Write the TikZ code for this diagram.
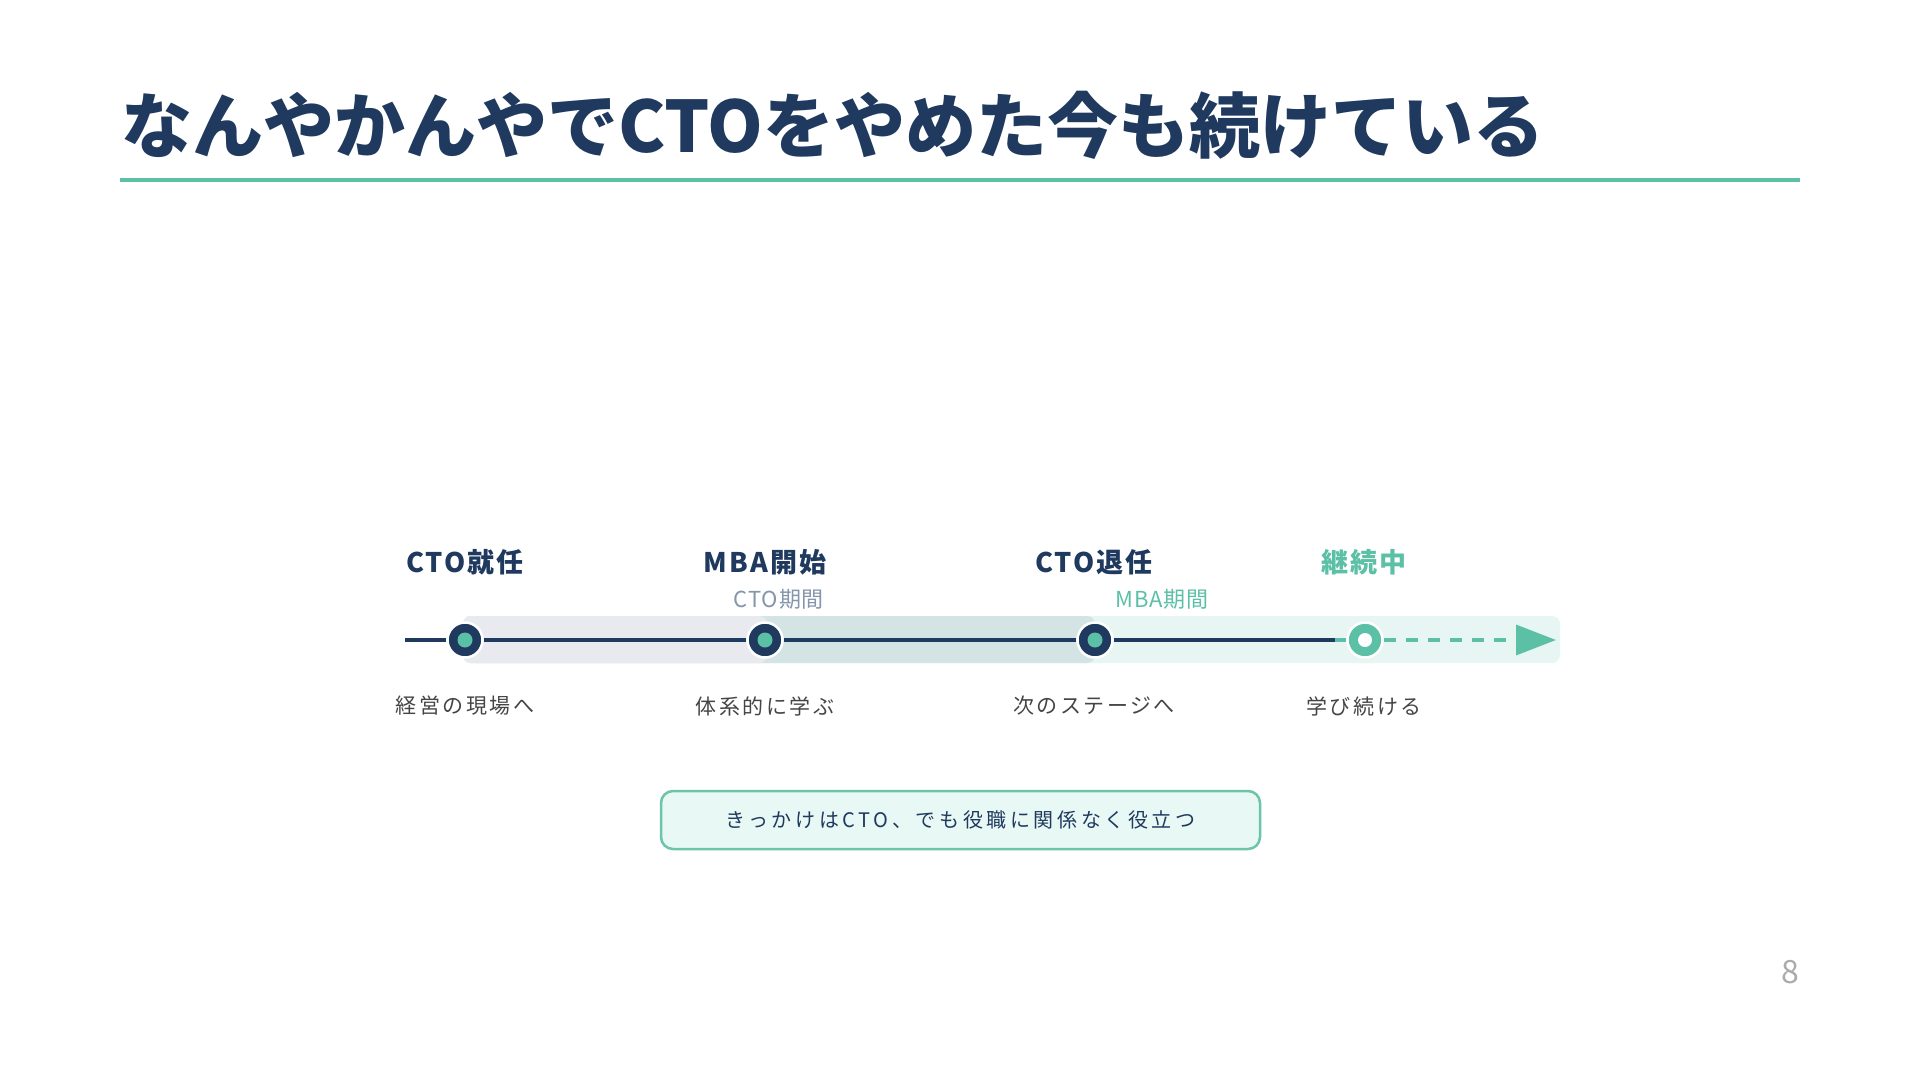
\documentclass[tikz,border=0pt]{standalone}
\usepackage{fontspec}
\setmainfont{Noto Sans CJK JP}
\usetikzlibrary{arrows.meta}
\definecolor{navy}{HTML}{1F3A5E}
\definecolor{tealc}{HTML}{5CC0A6}
\definecolor{bandgrey}{HTML}{E8EAF0}
\definecolor{bandteal}{HTML}{D4E4E4}
\definecolor{bandmint}{HTML}{E7F6F2}
\definecolor{boxfill}{HTML}{E8F8F4}
\definecolor{boxline}{HTML}{6CC5A8}
\definecolor{subgrey}{HTML}{8595AC}
\definecolor{txtgrey}{HTML}{454545}
\definecolor{pagegrey}{HTML}{ABABAB}
\tikzset{
  titletext/.style={anchor=base west, inner sep=0pt, text=navy,
    font=\fontsize{71}{76}\selectfont\bfseries},
  toplabel/.style={inner sep=0pt, text=navy,
    font=\fontsize{27}{30}\selectfont\bfseries\addfontfeature{LetterSpace=8}},
  sublabel/.style={inner sep=0pt, text=subgrey,
    font=\fontsize{22}{24}\selectfont\addfontfeature{LetterSpace=4}},
  botlabel/.style={inner sep=0pt, text=txtgrey,
    font=\fontsize{21}{24}\selectfont\addfontfeature{LetterSpace=12}},
  dot/.style={circle, fill=navy, draw=white, line width=2.5pt, minimum size=35pt, inner sep=0pt,
    path picture={\fill[tealc] (path picture bounding box.center) circle (7.5pt);}},
  dotlast/.style={circle, fill=tealc, draw=white, line width=2.5pt, minimum size=35pt, inner sep=0pt,
    path picture={\fill[white] (path picture bounding box.center) circle (7pt);}},
  tline/.style={line width=3.5pt},
  notebox/.style={draw=boxline, fill=boxfill, line width=2.5pt, rounded corners=12pt,
    minimum width=599pt, minimum height=58pt, inner sep=0pt, text=navy,
    font=\fontsize{20}{24}\selectfont\addfontfeature{LetterSpace=18}}
}
\begin{document}
\begin{tikzpicture}[x=1pt,y=-1pt]
\useasboundingbox[fill=white] (0,0) rectangle (1920,1080);
% title
\node[titletext] (title) at (121,152) {なんやかんやでCTOをやめた今も続けている};
\coordinate (ulA) at (120,180);
\coordinate (ulB) at (1800,180);
\draw[tealc, line width=4.5pt] (ulA) -- (ulB);
% bands
\fill[bandmint, rounded corners=8pt] (463,616) rectangle (1560,663);
\fill[bandteal, rounded corners=8pt] (463,616) rectangle (1095,663);
\fill[bandgrey, rounded corners=8pt] (463,616) rectangle (767,663);
% timeline points
\coordinate (start) at (405,640);
\coordinate (mix) at (1335,640);
\coordinate (tip) at (1556,640);
\node[dot] (n1) at (465,640) {};
\node[dot] (n2) at (765,640) {};
\node[dot] (n3) at (1095,640) {};
\node[dotlast] (n4) at (1365,640) {};
% connectors
\draw[navy, tline] (start) -- (n1);
\draw[navy, tline] (n1) -- (n2);
\draw[navy, tline] (n2) -- (n3);
\draw[navy, tline] (n3) -- (mix);
\draw[tealc, tline] (mix) -- (n4);
\draw[tealc, tline, dash pattern=on 12pt off 10pt, -{Triangle[length=40pt,width=30pt]}] (n4) -- (tip);
% top labels
\node[toplabel] (l1) at (465,562) {CTO就任};
\node[toplabel] (l2) at (765,562) {MBA開始};
\node[toplabel] (l3) at (1094,562) {CTO退任};
\node[toplabel, text=tealc] (l4) at (1364,562) {継続中};
% sub labels
\node[sublabel] (s1) at (779,599) {CTO期間};
\node[sublabel, text=tealc] (s2) at (1162,599) {MBA期間};
% bottom labels
\node[botlabel] (b1) at (465,706) {経営の現場へ};
\node[botlabel] (b2) at (765,706) {体系的に学ぶ};
\node[botlabel] (b3) at (1094,706) {次のステージへ};
\node[botlabel] (b4) at (1364,706) {学び続ける};
% note box
\node[notebox] (note) at (960.5,820) {きっかけはCTO、でも役職に関係なく役立つ};
% page number
\node[inner sep=0pt, text=pagegrey, font=\fontsize{32}{34}\selectfont] (page) at (1790,972) {8};
\end{tikzpicture}
\end{document}
